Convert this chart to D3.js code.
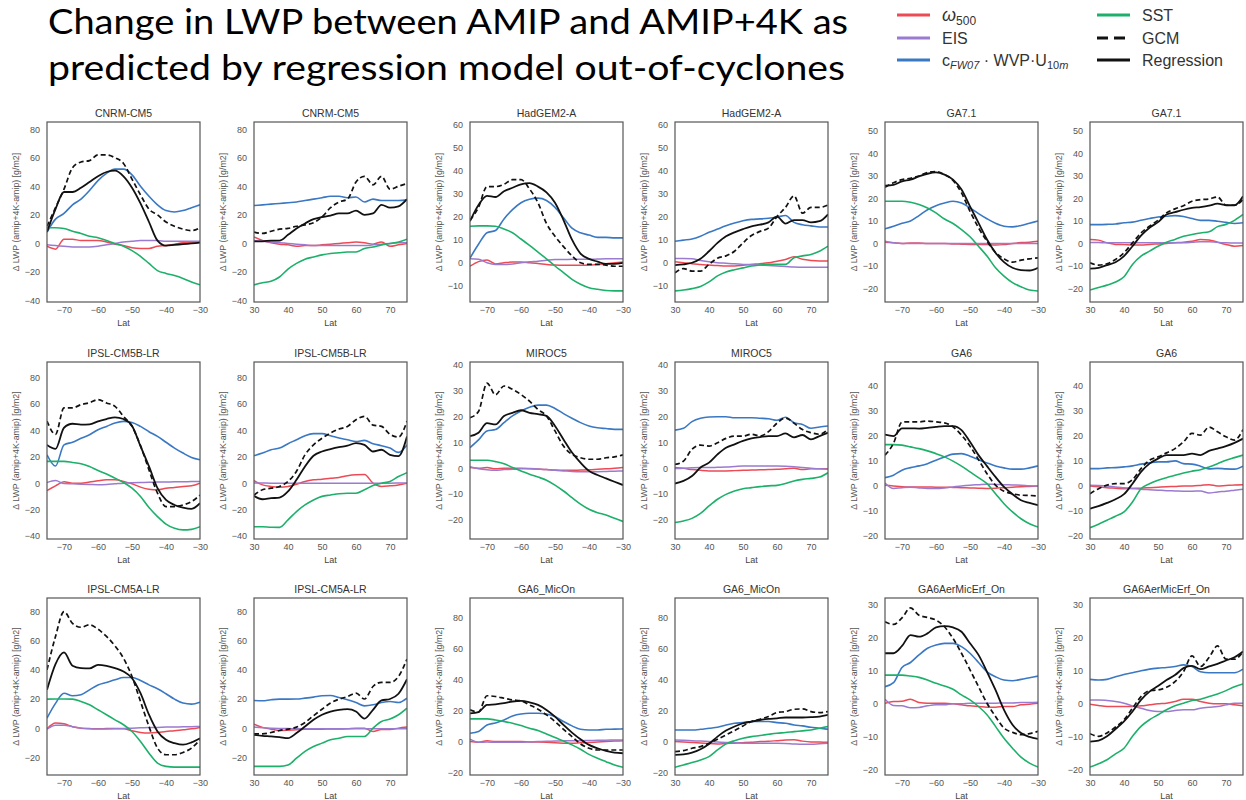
<!DOCTYPE html>
<html><head><meta charset="utf-8">
<script src="https://cdn.jsdelivr.net/npm/d3@7"></script>
<style>body{margin:0;background:#fff}</style>
</head><body><svg id="chart" width="1246" height="800"></svg>
<script>
// ---------------- DATA ----------------
const models = ["CNRM-CM5","HadGEM2-A","GA7.1","IPSL-CM5B-LR","MIROC5","GA6","IPSL-CM5A-LR","GA6_MicOn","GA6AerMicErf_On"];
const latSouth = [-75,-72.5,-70,-67.5,-65,-62.5,-60,-57.5,-55,-52.5,-50,-47.5,-45,-42.5,-40,-37.5,-35,-32.5,-30];
const latNorth = [30,32.5,35,37.5,40,42.5,45,47.5,50,52.5,55,57.5,60,62.5,65,67.5,70,72.5,75];
const xTicksSouth = [-70,-60,-50,-40,-30];
const xTicksNorth = [30,40,50,60,70];
const yLimits = [[-41,85],[-17,61],[-26,54],[-42.3,91.8],[-27.4,41.2],[-21.2,49.5],[-32.2,89.4],[-21.5,92.4],[-21.5,32]];
const yTickStep = [20,10,10,20,10,10,20,20,10];
const legendLabels = ["ω500","EIS","cFW07 · WVP·U10m","SST","GCM","Regression"];

// panels in order: row by row, each model SH then NH
const omega500 = [
 [-2,-4,3,3,2,2,2,1,-0.5,-1.5,-3,-3.5,-3.5,-2,-1.5,-0.5,0.5,1,1],
 [4.5,2,0.5,-0.5,-1,-2,-1.5,-1.5,-1,-0.5,0,0.5,1,0.5,-0.5,1,-2,-1,0],
 [-1.5,0.5,1.2,-0.5,0,0.3,0.3,0,-0.3,-0.7,-1,-1.1,-1.1,-1.1,-1,-0.7,-0.4,0,0.3],
 [0.4,0,-0.4,-0.7,-1,-1.2,-1.4,-1.4,-1.1,-0.7,-0.4,0,0.7,1.4,2.6,1.5,1,0.8,0.8],
 [0.6,0.3,0,0.2,0.2,0,0,0,-0.2,-0.3,-0.4,-0.4,-0.5,-0.7,-0.5,0,0.4,0.6,1],
 [1.8,1.5,0.3,-0.4,-0.5,-0.7,-0.7,-0.4,-0.2,0,0.3,0.6,1,1.8,1.6,0.6,-0.4,-1.2,-0.9],
 [-5.6,-2,1,0,0,0.8,1.8,2.5,2.5,1.3,-0.5,-3,-4.6,-5,-3.8,-3.3,-2.5,-2,0],
 [2,-1.3,-2.5,-3,-2.5,-0.8,1.3,2.5,3,3.8,4.3,5.6,6.3,6.5,0,-2.5,-2,-1.3,0],
 [0.3,0,0.3,-0.2,0,0,0,-0.2,-0.3,-0.5,-0.7,-0.8,-0.8,-0.7,-0.6,-0.4,-0.2,0,0.3],
 [0.3,0,-0.5,-0.8,-1,-1,-1,-0.9,-0.8,-0.7,-0.6,-0.5,-0.4,-0.2,0,-0.5,-0.2,-0.2,-0.2],
 [0.3,0,-0.3,-0.4,-0.4,-0.4,-0.5,-0.5,-0.6,-0.7,-0.8,-0.9,-1,-0.9,-0.7,-0.5,-0.3,-0.2,0],
 [0,-0.3,-0.7,-0.9,-1.1,-1,-0.9,-0.7,-0.5,-0.3,-0.2,0,0,0.2,0.5,0,0.2,0.4,0.5],
 [-0.5,3.5,3,1,0,-0.3,-0.5,-0.3,-0.2,-0.5,-1.8,-3,-3.4,-3,-2.3,-1.8,-1.1,-0.5,0.5],
 [2.7,0.5,-0.7,-1.6,-1.4,-1.1,-0.8,-0.7,-0.7,-0.6,-0.6,-0.4,0,0,-2.3,-1,-1,0,0.7],
 [0,-0.5,0.6,0,0,0,0,-0.2,-0.3,-0.5,-0.8,-1,-1.1,-0.8,-0.6,-0.3,0,0.3,0.6],
 [0,-0.3,-0.6,-0.9,-1.3,-1.5,-1.2,-1,-0.7,-0.4,0,0.2,0.6,1,1.2,0.3,-0.2,-0.3,-0.4],
 [0.2,0.7,0.8,1.4,0.4,0.2,0.2,0.2,0,-0.3,-0.6,-0.8,-1,-1,-0.8,-0.8,-0.3,-0.1,0.2],
 [-0.1,-0.5,-0.8,-0.8,-0.8,-0.8,-0.6,-0.3,0,0.2,0.7,1.4,1.4,0.7,0.2,0,0,-0.3,-0.6]
];
const eis = [
 [-1,-1.5,-2,-2.5,-2.5,-2.5,-2,-1,0,1,1.5,2,2,2,1.5,1.5,1.5,1.5,1.5],
 [2,1.5,1,0.5,0,-0.5,-1,-1.5,-1.5,-1.5,-1.5,-1.5,-1.5,-1.5,-1,-0.5,0,0.5,0.5],
 [1.7,1.5,0,-0.7,-0.7,-0.5,0,0.4,0.7,1.1,1.4,1.4,1.5,1.5,1.5,1.6,1.7,1.7,1.7],
 [1.9,1.9,1.7,1,0.4,0,-0.2,-0.4,-0.7,-0.8,-1,-1.2,-1.4,-1.6,-1.8,-1.9,-1.9,-1.9,-1.9],
 [1,0.3,0,0,0,0,0,0,0,0,0,0,0,0,0,0,0,0,0],
 [0.5,0.4,0.3,0.3,0.3,0.3,0.3,0.3,0.3,0.3,0.3,0.3,0.5,0.8,0.8,0.5,0.3,0.2,0.2],
 [0.5,2,-0.3,-0.5,-0.8,-1,-1.2,-1,-0.5,0,0.3,0.5,0.7,0.8,0.9,1,1.1,1.2,1.3],
 [0.2,0.1,0,0,0,0,0,0,0,0,0,0,0,0,0,0,0,0.1,0.2],
 [0.6,-0.2,-0.6,-0.8,-0.5,-0.4,-0.2,-0.1,-0.3,-0.5,-0.8,-1,-1.2,-1.3,-1.3,-1.3,-1.2,-1.1,-1],
 [-0.1,0,0.2,0.3,0.3,0.4,0.5,0.7,0.9,0.9,0.9,0.9,0.9,0.8,0.6,0.3,0,-0.2,-0.4],
 [1.2,-1,-0.7,-0.5,-0.8,-1,-1,-0.8,-0.4,0,0.3,0.5,0.7,0.6,0.5,0.4,0.3,0.1,0],
 [0.3,0.2,0,-0.4,-0.7,-1,-1.3,-1.5,-1.7,-1.9,-2,-2.1,-2.1,-2,-2.8,-2.4,-2.1,-1.7,-1.3],
 [-0.7,2,2,1,0,-0.4,-0.6,-0.6,-0.5,-0.3,0,0.2,0.4,0.5,0.7,0.8,0.9,1,1.1],
 [0.7,0.3,0,-0.2,-0.3,-0.4,-0.4,-0.4,-0.4,-0.4,-0.4,-0.4,-0.4,-0.4,-0.4,-0.4,-0.4,-0.4,-0.5],
 [1.5,-0.5,-0.3,-0.4,-0.4,-0.4,-0.4,-0.2,0,0.2,0.3,0.5,0.6,0.6,0.7,0.8,0.9,1,1.1],
 [1.1,0.9,0.6,0.3,0,-0.3,-0.6,-0.8,-1,-1.1,-1.1,-1.1,-1.1,-1.2,-1.5,-1.7,-1.7,-1.4,-1.1],
 [1.4,-0.5,-0.6,-1.2,-1.1,-0.6,-0.3,-0.3,0,0,0.2,0.2,0.2,0.2,0.3,0.3,0.4,0.4,0.5],
 [1.2,1.2,1,0.7,0.2,-0.6,-1.3,-2,-2.3,-2.3,-2,-1.8,-1.8,-1.3,-1,-0.8,-0.3,0.2,0.2]
];
const cfwWvpU10 = [
 [8,17,21,27,31,37,44,49,52,52,48,40,33,27,23,22,23,25,27],
 [26.5,27,27.5,28,28.5,29,30,31,32,33,33,32,32.5,29,31,30,30,30,30.5],
 [2,8,13,14,19,23,26,27.5,28,27,24,19.5,15,13,12,11,11,10.8,10.8],
 [9.3,9.8,10.3,11.5,13.2,14.6,16,17.2,18.2,18.8,19,19.3,19.8,20.5,17.5,16.5,16,15.5,15.5],
 [6.5,7.7,9,10,12.4,15,16.8,18,18.8,18,15.8,13.3,11,9,7.7,7.4,8,9,10],
 [8.4,8.4,8.5,8.7,9.2,9.5,10.3,11.1,11.8,12.1,12.4,12,11.1,10.3,10.3,9.9,9.4,8.9,9.2],
 [21.5,13,29,31,34,36.7,40.5,43,45.6,46.8,46,43,39,35.4,31,26.6,22.8,19.5,17.7],
 [20.8,22.8,25.3,26.6,29.9,32.9,36,37.5,37.5,36,34.2,32.9,31.6,32.4,29.9,28.4,26.6,23.3,29],
 [8,11,14.5,15,17.7,20.3,22.2,23.7,24.5,24.5,23.2,21.2,19.4,17.7,16.4,15.7,15.4,15.1,15.1],
 [14.8,15.5,18.1,19.4,19.9,20,20,19.6,19.6,19.6,19.4,19.2,18.6,19.8,17.7,17,15.5,16,16.4],
 [3.3,4.3,6.3,7.3,8,8.9,10.3,11.6,12.7,12.9,11.9,10.5,9.2,8,7.2,6.7,6.7,7.2,8],
 [6.9,6.9,7.2,7.3,7.6,8,8.7,9.2,9.6,9.6,10,8.9,8.7,7.9,6.8,7,6.8,6.7,7.9],
 [6.9,17,24,22.2,22.9,26.3,29.7,31.4,33.2,34.8,34.8,32.7,29.7,27,23.6,19.9,17.2,16.5,17.8],
 [19,18.8,19.5,19.9,19.9,20,20.6,21.3,22.2,22.4,21,19.5,17.6,15.3,16,17.6,18.3,17.6,20.6],
 [5.4,6.5,10.7,12,13.9,16.5,17.8,18.2,18.2,17.8,16.1,12.9,10.1,7.9,7.5,7.5,7.9,8,8.2],
 [7.5,7.5,7.5,7.9,8.6,9.2,10.7,11.8,12.2,12.9,12.9,12.9,12.2,11.8,10.7,10.1,9.2,8.6,7.9],
 [5.2,6.4,11,12.5,14.8,16.8,17.8,18.3,18.3,17.3,15.3,12.5,9.7,8.2,7.2,7,7.4,7.9,8.4],
 [7.4,7.2,7.4,8.2,8.9,9.4,10,10.5,10.8,11,11.3,11.8,11.3,9.7,9.4,9.4,9.4,9.4,10.5]
];
const sst = [
 [11,11,10.5,8.5,7,5,4,2,0,-2,-5,-9,-14,-19,-21,-22.5,-24.5,-27,-29],
 [-29,-27.5,-26.5,-23.5,-18,-14,-11,-9.5,-8,-7,-6.5,-6,-6,-3.5,-2.5,-1,0,1,3],
 [15.8,16,16,15.8,14.6,13,10.3,7.5,4.6,1.7,-1.4,-4.3,-7.2,-9.3,-10.8,-11.5,-12,-12.2,-12.2],
 [-12.2,-11.8,-11.2,-10.3,-8.3,-5.7,-4,-3,-2.2,-1.4,-1,-0.7,-0.7,-0.7,2.2,3,3.6,5,7.2],
 [18.8,18.8,18.8,18.3,17.3,15.8,13.6,10.9,8.9,6.2,3,-1.2,-5.6,-10.8,-14.5,-17.4,-19.2,-20.7,-21.1],
 [-20.7,-19.6,-18.5,-17.1,-14.8,-9.3,-5.6,-3.4,-1.2,0.6,1.8,3.2,4,4.7,5.2,7.5,8.5,10.3,12.9],
 [16.5,16.5,16.5,15.7,14.7,12.7,9.6,7,3.8,0.5,-3.8,-10.1,-18.5,-25.3,-31,-34.2,-35.4,-35,-33],
 [-33,-33,-33.4,-33.5,-27.8,-21.5,-16.5,-12.7,-10,-9,-8,-7.6,-7.6,-5,-1.8,0,1.3,5,8],
 [3.1,3.1,3.1,2.6,1.8,0.3,-1,-2.3,-3.4,-4.6,-6.5,-8.8,-11.4,-13.9,-15.9,-17.2,-18.1,-19.4,-20.6],
 [-21,-20.4,-19.4,-17.5,-14.6,-12,-10.1,-8.8,-7.9,-7.5,-7.1,-6.8,-6.6,-5.9,-4.9,-4.3,-3.9,-3.4,-1.7],
 [16.5,16.5,16.3,15.6,14.9,14,12.9,11.6,9.9,7.9,5.6,3.3,0.9,-3.1,-7.1,-10.4,-13.1,-15.1,-16.4],
 [-16.7,-15.3,-13.7,-12.1,-10.4,-6.4,-1.1,0.9,2.3,3.3,4.3,5.2,5.9,6.5,7.6,8.9,10.3,11.3,12.3],
 [19.9,20,20,19.9,18.3,16,12.6,9.2,5.7,2.3,-2.3,-9.2,-17.2,-24,-26.3,-26.8,-26.8,-26.8,-26.8],
 [-26.3,-26.3,-26.3,-26.3,-25.4,-20.6,-16,-12.6,-10.3,-8,-6.9,-5.7,-5.7,-5.7,0,4.6,6.2,9.2,13.7],
 [14.6,14.6,14.6,13.9,12.9,11.8,10.3,8.6,7.1,4.9,2.6,0.4,-2.1,-4.9,-8.2,-10.7,-12.9,-15,-16.5],
 [-16.5,-15,-13.5,-11.8,-9.7,-5.4,-1.5,0.6,2.1,3.2,3.9,4.7,5.4,5.8,6.4,6.9,7.5,8.6,9.7],
 [8.7,8.7,8.7,8.4,8,7.2,6.2,5.4,4.4,2.7,1.2,-0.8,-3.3,-6.8,-10.4,-13.4,-16.1,-17.9,-19.1],
 [-19.1,-18.1,-16.9,-15.1,-13.4,-9.8,-6.8,-4.8,-3.3,-1.8,-0.6,0.2,1,1.4,2.2,3,4,5.2,6]
];
const gcm = [
 [12,25,38,53,57,58,62,62,60,56,45,34,24,20,15,12,10,9,11],
 [8,7,8.5,10,10.5,12,13,14.5,18.5,25,29,31,43,47,41,47,38,40,42],
 [18.5,24,33,33,34,36,36,32,26,17,11.5,7,3,0,-0.7,-0.7,-1,-1.5,-1.5],
 [-4.3,-2.5,-3.6,-3.6,-0.7,2,3,5,8.6,11.8,13.6,15,20,24,29,21.5,24,24,25],
 [25,27,28.4,29,30,31.6,32,30.6,28,22.5,14.3,7,1,-4,-6.8,-8.3,-7.4,-6.8,-6.4],
 [-8.6,-9.6,-9,-7.1,-4.1,0.3,4.7,7.7,10.3,13.6,15.4,16.8,18.8,19.5,19.8,20.7,17,17,19.5],
 [47,37,57,57,59.5,61,63.3,60.8,58.2,50.6,43,28.4,10,-7.6,-17.7,-17.7,-16.5,-14,-9],
 [-9,-5,-3.8,-2.5,1.3,9,21.5,29,34,38,41,43,48,50.6,44,43,37,35,47],
 [19.6,22,33,28.5,31.9,30.6,28.6,26,22.8,20.3,14.5,8.6,5.4,4.1,3.5,3.5,4.1,4.4,5.2],
 [1.5,2.8,7.4,9,8.6,9.9,11.6,12.5,12.5,13.2,12.5,14.2,17.5,19.5,17.5,15,13.8,13.2,15.1],
 [12.3,17,25.5,25.6,25.6,25.9,25.6,25.2,23.6,20.3,15.9,10.5,4.9,0.3,-2.1,-3.1,-3.7,-3.8,-4],
 [-3.1,-1.1,0.3,0.9,0.9,2.5,6.9,10.3,11.6,13.2,14.9,17.6,21,20.3,23.5,21.6,19.6,18.3,22.5],
 [40,63,80,72,69.3,71,68,63,56.5,48,35.5,18.3,1.1,-13.7,-18.3,-18.3,-16.7,-13.7,-8],
 [-3.9,-3.9,-3,-1.6,-0.7,0.7,3.9,8.5,13,17.2,19.9,21.7,24,20,28.6,31.5,31.4,35.5,47.4],
 [20.4,19,29.5,29,27.9,26.8,26.2,23.6,20.8,17.2,12.9,7.9,3.2,-1.5,-4.3,-5.4,-5.4,-5.4,-5.4],
 [-6.4,-5.8,-4.3,-3.2,-1.1,1.5,4.3,7.1,10.1,12.9,14.4,16.1,18.7,19.3,20.8,21,19.3,18.7,19.3],
 [24.8,24,26,29,26.8,26.1,25.3,23.3,19.8,15.3,10.3,5.2,0.2,-3.8,-7.3,-8.6,-9.3,-9,-8.3],
 [-9,-9.8,-8.8,-7,-4.8,-1.3,2.2,4,4.2,5,6.7,9.7,14.5,11.3,14,17.5,13.5,13.5,15.8]
];
const regression = [
 [8,24,36,36,39,43,47,50,51,47,39,28,15,2,-1.5,-1,-0.5,0,0.5],
 [1.5,1.5,2,2,6,10.5,14,17,18.5,19.5,21,21,23,20,21,27,25,26,31],
 [18,25,29,28.5,31,32.5,34,34.5,33,30.5,26,18.5,10,4,1.7,0.5,-0.5,-0.5,0],
 [-1,-0.7,0,1.7,5,8.6,11.5,13.2,14.6,15.8,16.5,17.5,20,17,18.5,18.5,17.5,18,21],
 [25.7,26.1,27.6,28.4,29.8,31,31.6,30.6,28.4,24,16.5,9.2,1.8,-4.1,-8.3,-10.8,-11.8,-12,-10.8],
 [-11.2,-10.8,-9.6,-8.3,-5.6,-1.2,3.5,7,9.5,12.9,13.9,15,15.8,16.2,16.8,17.7,17,17,21],
 [29,26,42,45,44.3,44.6,46.8,48.6,49.9,48.6,43.5,28,12.7,-3.8,-12.7,-16.5,-18.5,-19.5,-15.2],
 [-9.6,-12.2,-11.4,-10.9,-6.3,2.5,12.7,20.8,24,25.8,27.3,28.4,30.4,29,24,25.3,21.5,20.5,35.4],
 [12.5,13.8,17.5,17,20.3,21.5,22.5,21.5,21,20.3,16.4,11.2,6.1,2.2,-1,-2.6,-3.9,-5.2,-6.5],
 [-5.9,-4.9,-3,0.3,2.2,5.4,8,9.3,10.6,11.6,12.1,12.5,12.5,13.5,12,12.9,11.2,12.5,13.8],
 [20.5,19.9,23,23,22.9,23.2,23.6,23.9,23.9,22.3,17.6,12.3,7.9,3.6,-0.4,-3.3,-5.7,-6.8,-7.7],
 [-9.1,-8.1,-6.8,-5.3,-3.3,0.9,5.6,8.9,10.9,12.3,12.3,12.3,12.9,12.3,14,14.9,15.9,17.2,18.9],
 [26.3,44,52,42.8,41.2,41,43.5,42.8,41.2,38.9,34.3,24,9.2,-2.3,-8,-10.3,-11.4,-9.8,-6.9],
 [-4.6,-5.3,-5.7,-6.2,-6.9,-3.4,1.1,5.7,9.2,11.4,12.6,13,11.4,6.5,12.6,19,20,23.6,33.6],
 [18.2,19,23.6,24,24.7,25.8,26.2,25.3,23.6,20.4,16.1,10.7,5.8,1.5,-2.1,-4.3,-6,-7.1,-7.5],
 [-8.6,-8.2,-7.1,-4.9,-1.5,3.2,7.1,9.7,11.8,12.9,13.9,14.6,15,15.5,15.5,15.5,15.7,16.1,17.2],
 [15.3,15.3,17.5,20.8,20.3,21.3,23.1,23.5,23.1,21.8,18.3,14.8,9.7,4.2,-1.8,-6.3,-8.8,-10,-10.6],
 [-11.4,-11.1,-9.8,-7.6,-5.3,-2.3,1.2,3.7,5.4,7.2,8.7,10.8,11.5,10.5,11.3,12.1,13.1,14.1,15.8]
];

// ---------------- STYLE / LAYOUT ----------------
const colors = {omega:"#ec4a55", eis:"#9a7bd0", cfw:"#3a78c4", sst:"#1db06a", gcm:"#111", reg:"#111"};
const seriesDefs = [
  {data: omega500, color: colors.omega, w: 1.5, dash: null},
  {data: eis, color: colors.eis, w: 1.5, dash: null},
  {data: cfwWvpU10, color: colors.cfw, w: 1.6, dash: null},
  {data: sst, color: colors.sst, w: 1.6, dash: null},
  {data: gcm, color: colors.gcm, w: 1.7, dash: "5,3"},
  {data: regression, color: colors.reg, w: 1.8, dash: null}
];
const colLeft = [47, 254, 470, 675, 885, 1090];
const panelW = 153;
const rowTop = [122, 362, 598];
const rowH = [180, 177, 177];
const fontSans = "'Liberation Sans', Arial, sans-serif";

const svg = d3.select("#chart");
svg.append("rect").attr("width",1246).attr("height",800).attr("fill","#fff");

// Title
const title = svg.append("g").attr("font-family","Lato, 'Open Sans', sans-serif").attr("fill","#000");
title.append("text").attr("x",48).attr("y",34).attr("font-size",34)
  .attr("textLength",800).attr("lengthAdjust","spacingAndGlyphs")
  .text("Change in LWP between AMIP and AMIP+4K as");
title.append("text").attr("x",48).attr("y",80).attr("font-size",34)
  .attr("textLength",797).attr("lengthAdjust","spacingAndGlyphs")
  .text("predicted by regression model out-of-cyclones");

// Legend
const leg = svg.append("g").attr("font-family",fontSans).attr("font-size",16).attr("fill","#333");
const legPos = [[897,15],[897,38],[897,60],[1097,15],[1097,38],[1097,60]];
seriesDefs.forEach((s,i)=>{
  const [lx,ly] = legPos[i];
  leg.append("line").attr("x1",lx).attr("x2",lx+33).attr("y1",ly).attr("y2",ly)
    .attr("stroke",s.color).attr("stroke-width",3).attr("stroke-dasharray", s.dash? "11,6": null);
  const tx = leg.append("text").attr("x",lx+45).attr("y",ly+6);
  if(i===0){
    tx.append("tspan").attr("font-style","italic").attr("font-size",18).text("ω");
    tx.append("tspan").attr("font-size",12).attr("dy",4).text("500");
  } else if(i===2){
    tx.append("tspan").text("c");
    tx.append("tspan").attr("font-size",11).attr("font-style","italic").attr("dy",3).text("FW07");
    tx.append("tspan").attr("dy",-3).text(" · WVP·U");
    tx.append("tspan").attr("font-size",11).attr("dy",3).text("10");
    tx.append("tspan").attr("font-size",11).attr("font-style","italic").text("m");
  } else {
    tx.text(legendLabels[i]);
  }
});

// Panels
const lineGen = (x,y,lats)=> d3.line().x((d,i)=>x(lats[i])).y(d=>y(d)).curve(d3.curveMonotoneX);
const defs = svg.append("defs");
for(let p=0;p<18;p++){
  const row = Math.floor(p/6), col = p%6, m = row*3 + Math.floor(col/2), north = col%2===1;
  const x0 = colLeft[col], y0 = rowTop[row], h = rowH[row];
  const lats = north ? latNorth : latSouth;
  const x = d3.scaleLinear().domain(north?[30,75]:[-75,-30]).range([x0, x0+panelW]);
  const y = d3.scaleLinear().domain(yLimits[m]).range([y0+h, y0]);
  const g = svg.append("g").attr("font-family",fontSans);

  defs.append("clipPath").attr("id","clip"+p).append("rect")
    .attr("x",x0).attr("y",y0).attr("width",panelW).attr("height",h);

  const step = yTickStep[m];
  const yt = d3.range(Math.ceil(yLimits[m][0]/step)*step, yLimits[m][1]+1e-9, step);
  const ya = g.append("g").attr("transform",`translate(${x0},0)`)
    .call(d3.axisLeft(y).tickValues(yt).tickSize(0).tickPadding(7).tickFormat(d3.format("d")));
  ya.select(".domain").remove();
  ya.selectAll("text").attr("font-size",9).attr("fill","#555").attr("font-family",fontSans);

  const xa = g.append("g").attr("transform",`translate(0,${y0+h})`)
    .call(d3.axisBottom(x).tickValues(north?xTicksNorth:xTicksSouth).tickSize(0).tickPadding(5).tickFormat(d3.format("d")));
  xa.select(".domain").remove();
  xa.selectAll("text").attr("font-size",9).attr("fill","#555").attr("font-family",fontSans);

  const lg = g.append("g").attr("clip-path",`url(#clip${p})`);
  seriesDefs.forEach(s=>{
    lg.append("path").attr("d", lineGen(x,y,lats)(s.data[p]))
      .attr("fill","none").attr("stroke",s.color).attr("stroke-width",s.w)
      .attr("stroke-dasharray",s.dash).attr("stroke-linejoin","round");
  });

  g.append("rect").attr("x",x0).attr("y",y0).attr("width",panelW).attr("height",h)
    .attr("fill","none").attr("stroke","#555").attr("stroke-width",1.2);

  g.append("text").attr("x",x0+panelW/2).attr("y",y0-5).attr("text-anchor","middle")
    .attr("font-size",10.5).attr("fill","#333").text(models[m]);
  g.append("text").attr("x",x0+panelW/2).attr("y",y0+h+24).attr("text-anchor","middle")
    .attr("font-size",9).attr("fill","#444").text("Lat");
  g.append("text").attr("transform",`translate(${x0-28},${y0+h/2}) rotate(-90)`)
    .attr("text-anchor","middle").attr("font-size",8.8).attr("fill","#555")
    .text("Δ LWP (amip+4K-amip) [g/m2]");
}
</script></body></html>
